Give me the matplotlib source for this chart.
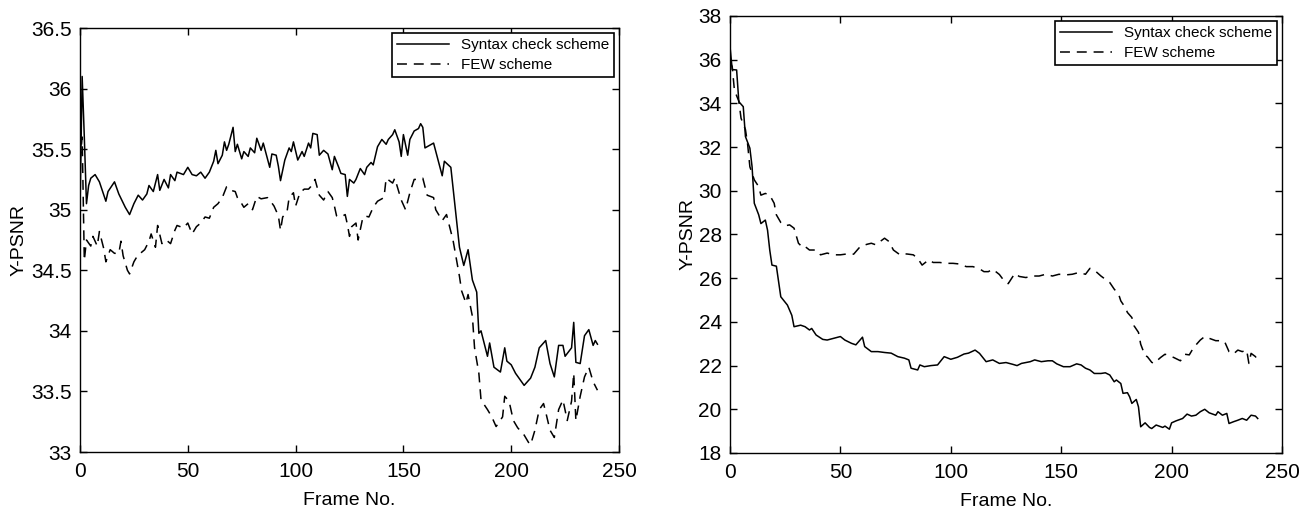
import matplotlib
matplotlib.use("Agg")
import matplotlib.pyplot as plt

plt.rcParams['font.family'] = ['Liberation Sans', 'DejaVu Sans']

# ---- left panel data (Y-PSNR per frame) ----
syn1_f = [0, 1, 2, 3, 4, 5, 7, 9, 12, 13, 16, 18, 21, 23, 25, 27, 29, 31, 32, 34, 36, 37,
          39, 41, 42, 44, 45, 48, 50, 52, 54, 56, 58, 60, 62, 63, 64, 66, 67, 68, 69, 71,
          72, 73, 75, 76, 78, 79, 81, 82, 84, 85, 88, 89, 91, 92, 93, 95, 97, 98, 99, 101,
          103, 104, 106, 107, 108, 110, 111, 113, 115, 117, 118, 120, 121, 123, 124, 125,
          127, 128, 130, 132, 133, 135, 136, 138, 140, 142, 143, 145, 146, 148, 149, 150,
          152, 153, 155, 157, 158, 159, 160, 164, 168, 169, 172, 176, 178, 180, 182, 184,
          185, 186, 189, 190, 192, 195, 197, 198, 200, 202, 206, 209, 211, 213, 216, 218,
          220, 222, 224, 225, 228, 229, 230, 232, 234, 236, 238, 239, 240]
syn1_v = [35.0, 36.1, 35.6, 35.05, 35.2, 35.26, 35.29, 35.23, 35.07, 35.15, 35.23, 35.13,
          35.02, 34.96, 35.05, 35.12, 35.08, 35.13, 35.2, 35.15, 35.29, 35.16, 35.25, 35.18,
          35.29, 35.24, 35.31, 35.29, 35.35, 35.29, 35.28, 35.31, 35.26, 35.31, 35.4, 35.49,
          35.38, 35.45, 35.56, 35.49, 35.54, 35.68, 35.48, 35.54, 35.42, 35.48, 35.44, 35.51,
          35.47, 35.59, 35.49, 35.55, 35.35, 35.46, 35.45, 35.36, 35.24, 35.41, 35.51, 35.48,
          35.56, 35.41, 35.48, 35.44, 35.55, 35.51, 35.63, 35.62, 35.45, 35.49, 35.46, 35.33,
          35.44, 35.35, 35.3, 35.29, 35.11, 35.25, 35.22, 35.25, 35.34, 35.29, 35.35, 35.39,
          35.37, 35.52, 35.58, 35.54, 35.58, 35.62, 35.66, 35.56, 35.44, 35.62, 35.45, 35.58,
          35.65, 35.67, 35.71, 35.68, 35.51, 35.55, 35.28, 35.4, 35.35, 34.69, 34.54, 34.67,
          34.42, 34.32, 33.98, 34.0, 33.79, 33.9, 33.7, 33.66, 33.86, 33.75, 33.72, 33.65,
          33.55, 33.61, 33.7, 33.86, 33.92, 33.73, 33.62, 33.88, 33.88, 33.79, 33.86, 34.07,
          33.74, 33.73, 33.96, 34.01, 33.88, 33.92, 33.89]

few1_f = [0, 1, 2, 3, 5, 6, 8, 9, 10, 11, 12, 14, 16, 18, 19, 20, 22, 23, 25, 27, 28, 30,
          32, 33, 35, 36, 38, 40, 42, 44, 45, 48, 50, 52, 54, 56, 58, 60, 62, 64, 66, 68,
          70, 72, 73, 75, 76, 78, 79, 80, 82, 84, 87, 88, 90, 92, 93, 94, 96, 97, 99, 100,
          102, 104, 106, 107, 109, 111, 113, 115, 117, 118, 119, 121, 123, 124, 125, 126,
          128, 129, 131, 132, 134, 136, 138, 141, 142, 145, 146, 148, 149, 151, 153, 155,
          157, 159, 161, 164, 165, 168, 170, 173, 176, 177, 179, 180, 182, 183, 185, 186,
          189, 191, 193, 196, 197, 199, 201, 203, 206, 208, 209, 211, 213, 215, 216, 218,
          220, 222, 224, 226, 228, 229, 230, 232, 234, 236, 238, 240]
few1_v = [35.4, 35.6, 34.58, 34.75, 34.7, 34.78, 34.7, 34.82, 34.75, 34.68, 34.57, 34.67,
          34.64, 34.64, 34.74, 34.62, 34.5, 34.47, 34.57, 34.63, 34.64, 34.67, 34.74, 34.8,
          34.69, 34.87, 34.72, 34.75, 34.72, 34.83, 34.87, 34.85, 34.89, 34.8, 34.86, 34.89,
          34.94, 34.93, 35.02, 35.05, 35.1, 35.19, 35.16, 35.15, 35.1, 35.05, 35.02, 35.05,
          35.02, 35.0, 35.11, 35.09, 35.1, 35.08, 35.03, 34.95, 34.83, 34.94, 34.98, 35.1,
          35.14, 35.03, 35.14, 35.17, 35.17, 35.19, 35.25, 35.12, 35.08, 35.15, 35.1, 35.03,
          34.95, 34.94, 34.96, 34.88, 34.78, 34.86, 34.89, 34.75, 34.92, 34.95, 34.94, 35.02,
          35.07, 35.1, 35.26, 35.22, 35.26, 35.14, 35.08, 35.0, 35.14, 35.25, 35.25, 35.26,
          35.12, 35.1, 35.0, 34.91, 34.96, 34.75, 34.45, 34.33, 34.23, 34.3, 34.12, 33.86,
          33.65, 33.43, 33.35, 33.29, 33.21, 33.29, 33.46, 33.42, 33.26, 33.2, 33.14, 33.08,
          33.06, 33.18, 33.35, 33.4, 33.33, 33.18, 33.12, 33.35, 33.43, 33.26, 33.42, 33.65,
          33.26, 33.46, 33.62, 33.7, 33.58, 33.51]

# ---- right panel data ----
syn2_f = [0, 1, 3, 4, 6, 7, 9, 10, 11, 13, 14, 16, 17, 18, 19, 21, 23, 26, 28, 29, 32, 34,
          36, 37, 39, 42, 44, 47, 50, 52, 55, 57, 60, 61, 64, 67, 70, 73, 76, 79, 81, 82,
          85, 86, 88, 91, 94, 97, 100, 103, 106, 108, 111, 113, 116, 119, 122, 125, 128,
          130, 132, 136, 138, 141, 144, 146, 148, 151, 154, 157, 159, 161, 163, 165, 168,
          170, 172, 174, 175, 177, 178, 180, 181, 182, 184, 185, 186, 188, 190, 191, 193,
          196, 197, 199, 200, 202, 205, 207, 209, 211, 213, 215, 217, 220, 221, 223, 225,
          226, 228, 230, 232, 234, 236, 238, 239]
syn2_v = [36.6, 35.55, 35.53, 34.08, 33.85, 32.48, 31.95, 31.1, 29.43, 28.9, 28.5, 28.66,
          28.2, 27.29, 26.6, 26.55, 25.15, 24.77, 24.3, 23.78, 23.85, 23.78, 23.63, 23.7,
          23.4, 23.2, 23.17, 23.25, 23.33, 23.17, 23.02, 22.95, 23.3, 22.87, 22.64, 22.64,
          22.6, 22.57, 22.41, 22.34, 22.26, 21.88, 21.8, 22.03, 21.95, 22.0, 22.03, 22.41,
          22.29, 22.38, 22.53, 22.57, 22.71, 22.56, 22.18, 22.26, 22.1, 22.14, 22.06, 22.0,
          22.1, 22.18, 22.26, 22.18, 22.22, 22.22, 22.08, 21.95, 21.95, 22.08, 22.03, 21.88,
          21.8, 21.64, 21.64, 21.67, 21.57, 21.26, 21.34, 21.18, 20.73, 20.76, 20.57, 20.27,
          20.45, 20.11, 19.2, 19.38, 19.17, 19.12, 19.28, 19.17, 19.23, 19.09, 19.38, 19.47,
          19.58, 19.78, 19.69, 19.73, 19.89, 20.0, 19.84, 19.73, 19.89, 19.73, 19.81, 19.35,
          19.43, 19.5, 19.58, 19.5, 19.73, 19.69, 19.58]

few2_f = [0, 1, 2, 4, 5, 7, 8, 9, 11, 13, 14, 16, 18, 20, 21, 23, 25, 27, 29, 31, 33, 34,
          36, 39, 41, 44, 47, 50, 53, 56, 59, 62, 64, 66, 68, 70, 72, 74, 77, 80, 83, 85,
          87, 90, 92, 95, 98, 101, 104, 107, 110, 113, 115, 117, 119, 122, 124, 126, 129,
          131, 134, 137, 140, 143, 146, 149, 152, 155, 158, 161, 163, 165, 168, 170, 172,
          174, 176, 177, 179, 180, 182, 183, 185, 186, 188, 189, 191, 192, 195, 197, 199,
          201, 204, 206, 208, 210, 213, 215, 217, 220, 222, 224, 226, 228, 230, 232, 234,
          235, 236, 238, 239]
few2_v = [35.9, 35.68, 34.6, 34.1, 33.32, 32.8, 32.11, 31.1, 30.5, 30.19, 29.8, 29.88,
          29.8, 29.43, 28.9, 28.55, 28.4, 28.44, 28.29, 27.6, 27.4, 27.45, 27.29, 27.29,
          27.07, 27.15, 27.07, 27.07, 27.11, 27.1, 27.45, 27.55, 27.6, 27.53, 27.68, 27.83,
          27.68, 27.29, 27.07, 27.11, 27.07, 26.91, 26.6, 26.84, 26.72, 26.72, 26.68, 26.68,
          26.65, 26.53, 26.53, 26.43, 26.3, 26.3, 26.41, 26.17, 25.9, 25.75, 26.22, 26.08,
          26.03, 26.1, 26.1, 26.18, 26.1, 26.18, 26.15, 26.18, 26.26, 26.18, 26.45, 26.37,
          26.1, 25.95, 25.8, 25.5, 25.27, 24.96, 24.66, 24.43, 24.2, 23.82, 23.52, 22.98,
          22.45, 22.41, 22.15, 22.1, 22.37, 22.52, 22.45, 22.37, 22.22, 22.52, 22.49, 22.83,
          23.17, 23.33, 23.25, 23.14, 23.14, 23.1, 22.64, 22.53, 22.71, 22.64, 22.71, 22.1,
          22.56, 22.41, 22.18]

W, H = 1311, 516
fig = plt.figure(figsize=(W / 100, H / 100), dpi=100)
ax1 = fig.add_axes([80 / W, (H - 452) / H, 539 / W, 424 / H])
ax2 = fig.add_axes([730 / W, (H - 453) / H, 552 / W, 437 / H])

dash = (0, (6.5, 4.5))
panels = [
    (ax1, syn1_f, syn1_v, few1_f, few1_v, (33, 36.5), [33 + 0.5 * i for i in range(8)], -0.098),
    (ax2, syn2_f, syn2_v, few2_f, few2_v, (18, 38), list(range(18, 39, 2)), -0.06),
]
for ax, sf, sv, ff, fv, ylim, yt, ylx in panels:
    ax.plot(sf, sv, color='black', lw=1.1, label='Syntax check scheme')
    ax.plot(ff, fv, color='black', lw=1.1, linestyle=dash, label='FEW scheme')
    ax.set_xlim(0, 250)
    ax.set_ylim(*ylim)
    ax.set_xticks([0, 50, 100, 150, 200, 250])
    ax.set_yticks(yt)
    ax.set_yticklabels([('%g' % t) for t in yt])
    ax.tick_params(direction='in', top=True, right=True, labelsize=15, length=5, width=1)
    ax.tick_params(axis='x', pad=7)
    ax.tick_params(axis='y', pad=6)
    for sp in ax.spines.values():
        sp.set_linewidth(1)
    ax.set_xlabel('Frame No.', fontsize=14, labelpad=8)
    ax.set_ylabel('Y-PSNR', fontsize=14)
    ax.yaxis.set_label_coords(ylx, 0.5)
    leg = ax.legend(loc='upper right', fontsize=11, fancybox=False, framealpha=1,
                    edgecolor='black', borderaxespad=0.35, handlelength=3.4,
                    borderpad=0.3, labelspacing=0.4, handletextpad=0.8)
    leg.get_frame().set_linewidth(1.2)

fig.savefig('out.png', dpi=100)
